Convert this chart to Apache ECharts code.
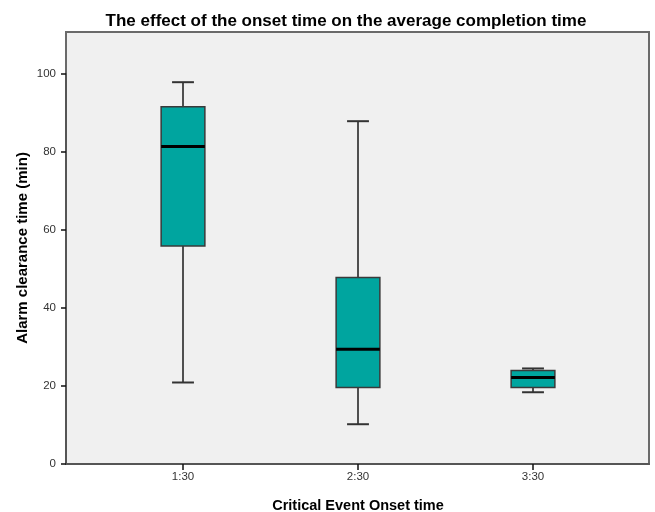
<!DOCTYPE html>
<html>
<head>
<meta charset="utf-8">
<script src="https://cdn.jsdelivr.net/npm/echarts@6/dist/echarts.min.js"></script>
<style>html,body{margin:0;padding:0;background:#fff}#c{width:655px;height:512px}</style>
</head>
<body>
<div id="c"></div>
<script>
const categories = ['1:30', '2:30', '3:30'];
const whiskerLow = [20.9, 10.2, 18.4];
const q1 = [55.9, 19.6, 19.6];
const median = [81.4, 29.4, 22.2];
const q3 = [91.6, 47.8, 24.0];
const whiskerHigh = [97.9, 87.9, 24.5];
const yMin = 0, yMax = 100, yStep = 20;

const boxData = categories.map((c, i) => [i, whiskerLow[i], q1[i], median[i], q3[i], whiskerHigh[i]]);

const chart = echarts.init(document.getElementById('c'), null, {renderer: 'canvas'});
const FONT = 'Liberation Sans, Arial, sans-serif';

function renderItem(params, api) {
  const i = api.value(0);
  const pLow = api.coord([i, api.value(1)]);
  const pQ1 = api.coord([i, api.value(2)]);
  const pMed = api.coord([i, api.value(3)]);
  const pQ3 = api.coord([i, api.value(4)]);
  const pHigh = api.coord([i, api.value(5)]);
  const band = api.size([1, 0])[0];
  const bw = band * 0.25;
  const cw = bw / 2;
  const x = pMed[0];
  const wStyle = {stroke: '#1a1a1a', lineWidth: 1.5};
  return {
    type: 'group',
    children: [
      {type: 'line', shape: {x1: x, y1: pLow[1], x2: x, y2: pQ1[1]}, style: wStyle},
      {type: 'line', shape: {x1: x, y1: pQ3[1], x2: x, y2: pHigh[1]}, style: wStyle},
      {type: 'line', shape: {x1: x - cw / 2, y1: pLow[1], x2: x + cw / 2, y2: pLow[1]}, style: {stroke: '#333', lineWidth: 2}},
      {type: 'line', shape: {x1: x - cw / 2, y1: pHigh[1], x2: x + cw / 2, y2: pHigh[1]}, style: {stroke: '#333', lineWidth: 2}},
      {type: 'rect', shape: {x: x - bw / 2, y: pQ3[1], width: bw, height: pQ1[1] - pQ3[1]},
        style: {fill: '#00a59f', stroke: '#3a3a3a', lineWidth: 1.5}},
      {type: 'line', shape: {x1: x - bw / 2, y1: pMed[1], x2: x + bw / 2, y2: pMed[1]}, style: {stroke: '#000', lineWidth: 3}}
    ]
  };
}

const gridBase = {outerBoundsMode: 'none', containLabel: false};
const option = {
  animation: false,
  title: {
    text: 'The effect of the onset time on the average completion time',
    left: 341, top: 8, textAlign: 'center',
    textStyle: {fontFamily: FONT, fontSize: 17, fontWeight: 'bold', color: '#000'}
  },
  grid: [
    Object.assign({left: 66, top: 32, width: 583, height: 432, show: true, backgroundColor: '#f0f0f0', borderColor: '#6a6a6a', borderWidth: 2}, gridBase),
    Object.assign({left: 66, top: 74, width: 583, height: 390}, gridBase),
    Object.assign({left: 95.5, top: 74, width: 525, height: 390}, gridBase)
  ],
  xAxis: [
    {gridIndex: 0, type: 'value', min: 0, max: 1, show: false},
    {gridIndex: 1, type: 'value', min: 0, max: 1, show: true,
      axisLine: {show: true, lineStyle: {color: '#555', width: 2}},
      axisTick: {show: false}, axisLabel: {show: false}, splitLine: {show: false}},
    {gridIndex: 2, type: 'category', data: categories, boundaryGap: true,
      axisLine: {show: false},
      axisTick: {show: true, alignWithLabel: true, length: 6, lineStyle: {color: '#111', width: 1.5}},
      axisLabel: {fontFamily: FONT, fontSize: 11.5, color: '#333', margin: 7},
      name: 'Critical Event Onset time', nameLocation: 'middle', nameGap: 34,
      nameTextStyle: {fontFamily: FONT, fontSize: 14.5, fontWeight: 'bold', color: '#000'},
      splitLine: {show: false}}
  ],
  yAxis: [
    {gridIndex: 0, type: 'value', min: 0, max: 1, show: true,
      axisLine: {show: false}, axisTick: {show: false}, axisLabel: {show: false}, splitLine: {show: false},
      name: 'Alarm clearance time (min)', nameLocation: 'middle', nameGap: 36,
      nameTextStyle: {fontFamily: FONT, fontSize: 15, fontWeight: 'bold', color: '#000'}},
    {gridIndex: 1, type: 'value', min: yMin, max: yMax, interval: yStep,
      axisLine: {show: true, lineStyle: {color: '#555', width: 2}},
      axisTick: {show: true, length: 5, lineStyle: {color: '#111', width: 1.5}},
      axisLabel: {fontFamily: FONT, fontSize: 11.5, color: '#333', margin: 10},
      splitLine: {show: false}},
    {gridIndex: 2, type: 'value', min: yMin, max: yMax, show: false, splitLine: {show: false}}
  ],
  series: [{
    type: 'custom', xAxisIndex: 2, yAxisIndex: 2,
    renderItem: renderItem,
    data: boxData,
    encode: {x: 0, y: [1, 2, 3, 4, 5]}
  }]
};
chart.setOption(option);
</script>
</body>
</html>
